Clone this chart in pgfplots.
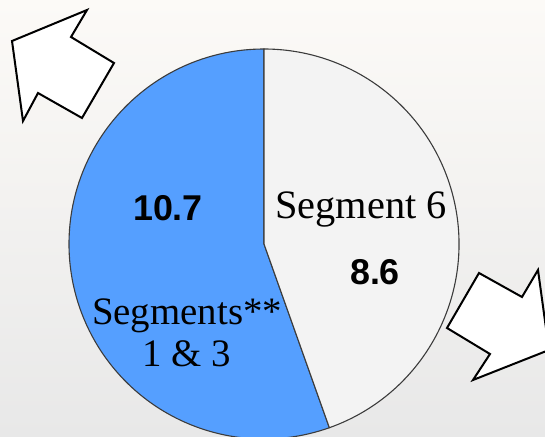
\documentclass[border=0pt]{standalone}
\usepackage{pgfplots}
\pgfplotsset{compat=1.18}
\usepackage{fontspec}
\setmainfont{Liberation Serif}
\newfontfamily\sansfont{Liberation Sans}

\definecolor{pieblue}{HTML}{559FFF}
\definecolor{piegray}{HTML}{F3F3F3}
\definecolor{bgtop}{HTML}{FCFAF7}
\definecolor{bgbot}{HTML}{E8E8E8}
\definecolor{edge}{HTML}{3C3C3C}

% slice values
\def\vA{10.7} % Segments 1 & 3
\def\vB{8.6}  % Segment 6

\begin{document}
\begin{tikzpicture}
\pgfmathsetmacro\angA{90+360*\vA/(\vA+\vB)}
\begin{axis}[
    x=1bp, y=1bp,
    xmin=0, xmax=545, ymin=0, ymax=437,
    hide axis, clip=true,
]
% background
\fill[top color=bgtop, bottom color=bgbot] (axis cs:0,0) rectangle (axis cs:545,437);
% pie slices
\filldraw[fill=pieblue, draw=edge, line width=1.1bp]
    (axis cs:264,193) -- (axis cs:264,388) arc[start angle=90, end angle=\angA, radius=195bp] -- cycle;
\filldraw[fill=piegray, draw=edge, line width=1.1bp]
    (axis cs:264,193) -- ++({\angA}:195bp) arc[start angle=\angA, end angle=450, radius=195bp] -- cycle;
% arrows
\filldraw[fill=white, draw=black, line width=2bp, line join=miter]
    (axis cs:12,396) -- (axis cs:87,427) -- (axis cs:71,400) -- (axis cs:114,374)
    -- (axis cs:82,319) -- (axis cs:38,344) -- (axis cs:23,316) -- cycle;
\filldraw[fill=white, draw=black, line width=2bp, line join=miter]
    (axis cs:549,87) -- (axis cs:473,57) -- (axis cs:490,83) -- (axis cs:447,109)
    -- (axis cs:479,164) -- (axis cs:522,140) -- (axis cs:538,167) -- cycle;
% labels
\node[font=\sansfont\bfseries\fontsize{36}{40}\selectfont] at (axis cs:168,229) {\vA};
\node[font=\sansfont\bfseries\fontsize{36}{40}\selectfont] at (axis cs:375,165) {\vB};
\node[font=\fontsize{40.5}{42}\selectfont] at (axis cs:361,228) {Segment 6};
\node[font=\fontsize{39}{42}\selectfont, align=center] at (axis cs:187,104)
    {Segments**\\[0bp]1 \& 3};
\end{axis}
\pgfresetboundingbox
\path (0,0) rectangle (545bp,437bp);
\end{tikzpicture}
\end{document}
